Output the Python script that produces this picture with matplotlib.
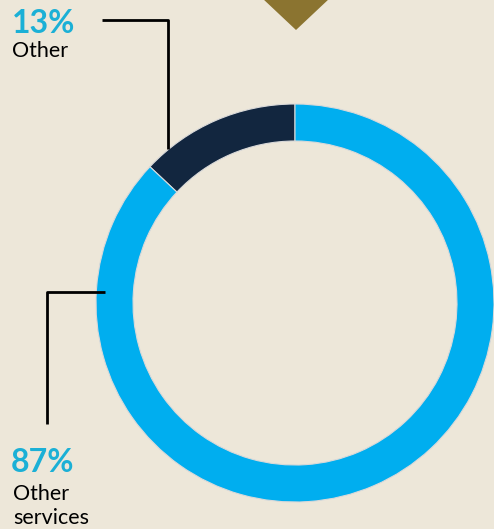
import matplotlib
matplotlib.use("Agg")
import matplotlib.pyplot as plt

# Data
labels = ["Other", "Other services"]
shares = [13, 87]
pct_labels = ["13%", "87%"]
colors = ["#12263F", "#00AEEF"]

W, H = 494, 529
bg = "#EDE7D9"

fig = plt.figure(figsize=(W / 100, H / 100), dpi=100, facecolor=bg)
ax = fig.add_axes([0, 0, 1, 1])
ax.set_facecolor(bg)

# Donut ring, pixel coordinates (y measured from bottom)
cx, cy, r = 295, H - 303, 199
ax.pie(shares, colors=colors, startangle=90, counterclock=True,
       center=(cx, cy), radius=r,
       wedgeprops=dict(width=37, edgecolor="#D9D9D9", linewidth=0.8))

ax.set_xlim(0, W)
ax.set_ylim(0, H)
ax.set_aspect("auto")
ax.axis("off")

# Gold triangle marker at top
ax.fill([262, 330, 296], [H + 2, H + 2, H - 30], color="#8B7430", lw=0)

# Leader lines
ax.plot([102, 168, 168], [H - 20, H - 20, H - 149], color="black", lw=2, solid_capstyle="butt")
ax.plot([105, 47, 47], [H - 292, H - 292, H - 424], color="black", lw=2, solid_capstyle="butt")

# Labels
blue_txt = "#1BB0D6"
font = "Lato"
ax.text(12, H - 33, pct_labels[0], color=blue_txt, fontsize=23, fontweight="bold",
        family=font, va="baseline", ha="left")
ax.text(12, H - 57, labels[0], color="black", fontsize=15.5, family=font,
        va="baseline", ha="left")
ax.text(11, H - 472, pct_labels[1], color=blue_txt, fontsize=23, fontweight="bold",
        family=font, va="baseline", ha="left")
words = labels[1].split()
ax.text(13, H - 500, words[0], color="black", fontsize=15.5, family=font,
        va="baseline", ha="left")
ax.text(13, H - 524, words[1], color="black", fontsize=15.5, family=font,
        va="baseline", ha="left")

fig.savefig("out.png", dpi=100, facecolor=bg)
